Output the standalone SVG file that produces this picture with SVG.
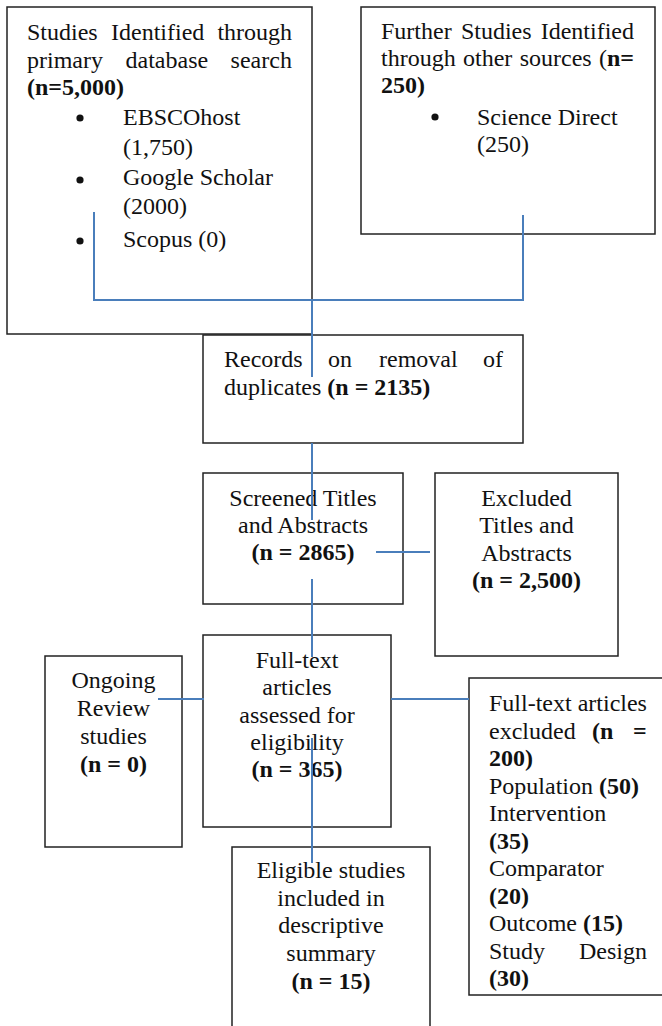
<svg xmlns="http://www.w3.org/2000/svg" width="662" height="1026" viewBox="0 0 662 1026">
<style>
.box{fill:#fff;stroke:#222;stroke-width:1.5}
.t{font-family:"Liberation Serif","Times New Roman",serif;font-size:24px;fill:#111}
.c{text-anchor:middle}
.b{font-weight:bold}
.conn{fill:none;stroke:#4a7ebb;stroke-width:2}
.dot{fill:#111}
</style>
<rect width="662" height="1026" fill="#fff"/>
<g id="primary">
<rect class="box" x="7" y="7" width="305" height="327"/>
<text class="t" y="40"><tspan x="27">Studies</tspan><tspan x="111">Identified</tspan><tspan x="217.4">through</tspan></text>
<text class="t" y="68"><tspan x="27">primary</tspan><tspan x="125.5">database</tspan><tspan x="230.6">search</tspan></text>
<text class="t b" x="27" y="95">(n=5,000)</text>
<circle class="dot" cx="80" cy="118" r="3.6"/>
<circle class="dot" cx="80" cy="180" r="3.6"/>
<circle class="dot" cx="80" cy="241" r="3.6"/>
<text class="t" x="123" y="125">EBSCOhost</text>
<text class="t" x="123" y="155">(1,750)</text>
<text class="t" x="123" y="185">Google Scholar</text>
<text class="t" x="123" y="214">(2000)</text>
<text class="t" x="123" y="247">Scopus (0)</text>
</g>
<g id="other">
<rect class="box" x="361" y="7" width="294" height="227"/>
<text class="t" y="39"><tspan x="381">Further</tspan><tspan x="460.9">Studies</tspan><tspan x="540.7">Identified</tspan></text>
<text class="t" y="66"><tspan x="381">through</tspan><tspan x="463">other</tspan><tspan x="519.7">sources</tspan><tspan x="599">(</tspan><tspan class="b">n=</tspan></text>
<text class="t b" x="381" y="93">250)</text>
<circle class="dot" cx="435" cy="117" r="3.6"/>
<text class="t" x="477" y="125">Science Direct</text>
<text class="t" x="477" y="152">(250)</text>
</g>
<g id="records">
<rect class="box" x="203" y="335" width="320" height="108"/>
<text class="t" y="367"><tspan x="224">Records</tspan><tspan x="328">on</tspan><tspan x="379">removal</tspan><tspan x="483">of</tspan></text>
<text class="t" x="224" y="395">duplicates <tspan class="b">(n = 2135)</tspan></text>
</g>
<g id="screened">
<rect class="box" x="203" y="473" width="200" height="131"/>
<text class="t c" x="303" y="506">Screened Titles</text>
<text class="t c" x="303" y="533">and Abstracts</text>
<text class="t c b" x="303" y="560">(n = 2865)</text>
</g>
<g id="excluded">
<rect class="box" x="435" y="473" width="183" height="183"/>
<text class="t c" x="526.5" y="506">Excluded</text>
<text class="t c" x="526.5" y="533">Titles and</text>
<text class="t c" x="526.5" y="561">Abstracts</text>
<text class="t c b" x="526.5" y="588">(n = 2,500)</text>
</g>
<g id="fulltext">
<rect class="box" x="203" y="635" width="188" height="192"/>
<text class="t c" x="297" y="668">Full-text</text>
<text class="t c" x="297" y="695">articles</text>
<text class="t c" x="297" y="723">assessed for</text>
<text class="t c" x="297" y="750">eligibility</text>
<text class="t c b" x="297" y="777">(n = 365)</text>
</g>
<g id="ongoing">
<rect class="box" x="45" y="656" width="137" height="191"/>
<text class="t c" x="113.5" y="688">Ongoing</text>
<text class="t c" x="113.5" y="716">Review</text>
<text class="t c" x="113.5" y="744">studies</text>
<text class="t c b" x="113.5" y="772">(n = 0)</text>
</g>
<g id="eligible">
<rect class="box" x="232" y="847" width="198" height="200"/>
<text class="t c" x="331" y="878">Eligible studies</text>
<text class="t c" x="331" y="906">included in</text>
<text class="t c" x="331" y="933">descriptive</text>
<text class="t c" x="331" y="961">summary</text>
<text class="t c b" x="331" y="989">(n = 15)</text>
</g>
<g id="ftexcluded">
<rect class="box" x="469" y="678" width="200" height="317"/>
<text class="t" x="489" y="711">Full-text articles</text>
<text class="t" y="738.5"><tspan x="489">excluded</tspan><tspan x="592" class="b">(n</tspan><tspan x="633" class="b">=</tspan></text>
<text class="t b" x="489" y="766">200)</text>
<text class="t" x="489" y="793.5">Population <tspan class="b">(50)</tspan></text>
<text class="t" x="489" y="821">Intervention</text>
<text class="t b" x="489" y="848.5">(35)</text>
<text class="t" x="489" y="876">Comparator</text>
<text class="t b" x="489" y="903.5">(20)</text>
<text class="t" x="489" y="931">Outcome <tspan class="b">(15)</tspan></text>
<text class="t" y="958.5"><tspan x="489">Study</tspan><tspan x="579">Design</tspan></text>
<text class="t b" x="489" y="986">(30)</text>
</g>
<g id="connectors">
<polyline class="conn" points="94,212 94,300 523,300 523,215"/>
<line class="conn" x1="312" y1="300" x2="312" y2="377"/>
<line class="conn" x1="312" y1="443" x2="312" y2="520"/>
<line class="conn" x1="376" y1="552" x2="430" y2="552"/>
<line class="conn" x1="312" y1="579" x2="312" y2="657"/>
<line class="conn" x1="158" y1="699" x2="204" y2="699"/>
<line class="conn" x1="391" y1="699" x2="469" y2="699"/>
<line class="conn" x1="312" y1="738" x2="312" y2="863"/>
</g>
</svg>
